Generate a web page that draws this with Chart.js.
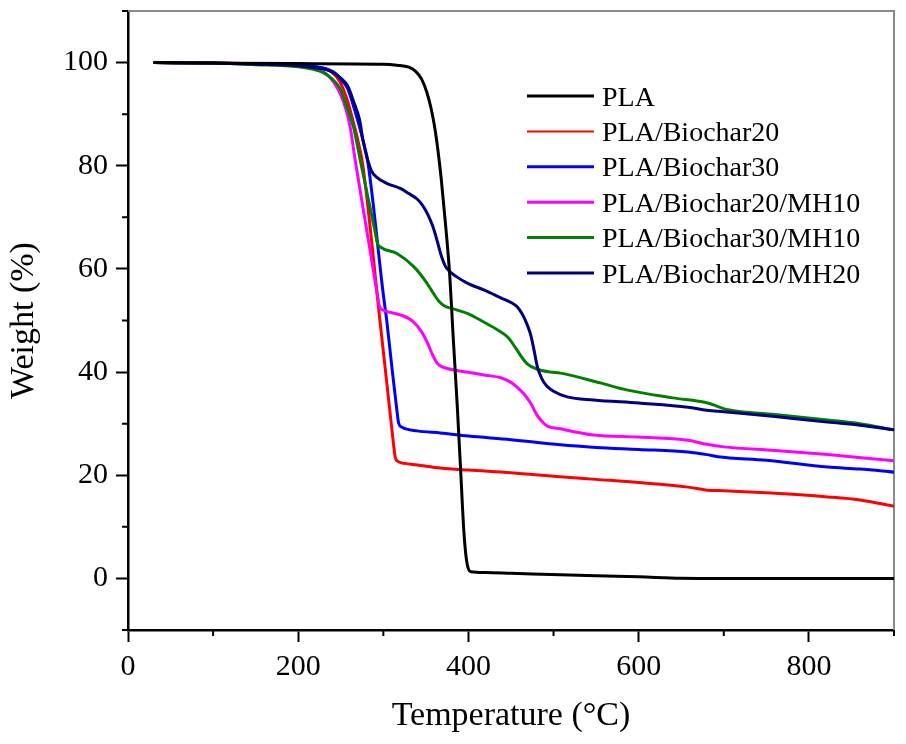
<!DOCTYPE html>
<html>
<head>
<meta charset="utf-8">
<title>TGA curves</title>
<script src="https://cdn.jsdelivr.net/npm/chart.js@4.4.1/dist/chart.umd.min.js"></script>
<style>
  html, body { margin: 0; padding: 0; background: #fff; }
  #wrap { width: 906px; height: 744px; position: relative; }
</style>
</head>
<body>
<div id="wrap"><canvas id="tgaChart"></canvas></div>
<script>
// tick labels
const xMajorTicks = [0, 200, 400, 600, 800];
const yMajorTicks = [0, 20, 40, 60, 80, 100];

const seriesNames = ["PLA", "PLA/Biochar20", "PLA/Biochar30", "PLA/Biochar20/MH10", "PLA/Biochar30/MH10", "PLA/Biochar20/MH20"];

// PLA
const plaTemp   = [30, 100, 200, 300, 316, 330, 338, 345, 351, 356, 360, 364, 368, 373, 378, 382, 387, 391, 394.5, 397, 400, 403, 420, 450, 508, 550, 600, 650, 700, 800, 900];
const plaWeight = [100, 99.9, 99.8, 99.7, 99.5, 99.1, 98.3, 96.8, 94.3, 91.2, 87.8, 83.2, 77.5, 68.8, 58.8, 47.0, 33.0, 20.4, 9.4, 4.5, 1.8, 1.3, 1.15, 1.0, 0.7, 0.5, 0.3, 0.05, 0, 0, 0];

// PLA/Biochar20
const bc20Temp   = [30, 100, 150, 200, 220, 238, 249, 258, 265, 270, 276, 296, 306, 312, 314, 316, 325, 340, 367, 400, 450, 508, 550, 600, 658, 681, 700, 750, 822, 860, 900];
const bc20Weight = [100, 99.9, 99.8, 99.5, 99.2, 98.3, 96.3, 92.5, 88.3, 85.0, 80.0, 50.0, 35.0, 26.0, 23.5, 22.8, 22.3, 22.0, 21.4, 21.0, 20.5, 19.7, 19.2, 18.6, 17.7, 17.1, 17.0, 16.6, 15.8, 15.2, 14.0];

// PLA/Biochar30
const bc30Temp   = [30, 100, 150, 200, 220, 240, 250, 258, 266, 276, 282, 300, 304, 310, 316, 318, 322, 340, 367, 400, 450, 508, 550, 600, 658, 680, 693, 750, 822, 860, 900];
const bc30Weight = [100, 99.9, 99.8, 99.5, 99.2, 98.3, 96.8, 95.0, 91.0, 85.0, 80.5, 55.0, 50.0, 41.0, 32.5, 30.1, 29.3, 28.6, 28.2, 27.6, 26.9, 25.9, 25.4, 25.0, 24.5, 24.0, 23.6, 22.9, 21.6, 21.2, 20.6];

// PLA/Biochar20/MH10
const bc20mh10Temp   = [30, 100, 150, 200, 220, 235, 249, 256, 261, 267, 281, 293, 295.5, 300, 320, 335, 345, 352, 358, 363, 368, 375, 398, 420, 438, 450, 457, 465, 473, 480, 485, 492, 508, 547, 600, 658, 680, 700, 760, 822, 900];
const bc20mh10Weight = [100, 99.9, 99.7, 99.3, 98.7, 97.5, 94.1, 91.0, 87.5, 81.0, 67.0, 55.0, 52.7, 52.0, 51.1, 49.8, 47.8, 45.6, 43.3, 41.8, 41.1, 40.7, 40.0, 39.4, 38.9, 38.0, 37.1, 35.8, 34.0, 31.8, 30.7, 29.6, 29.0, 27.8, 27.4, 26.8, 26.0, 25.5, 24.8, 24.0, 22.8];

// PLA/Biochar30/MH10
const bc30mh10Temp   = [30, 100, 150, 200, 215, 230, 240, 249, 257, 265, 273, 283, 290, 293, 297, 316, 336, 351, 359, 365, 372, 379, 400, 418, 433, 446, 457, 463, 469, 480, 496, 508, 555, 587, 640, 681, 705, 760, 822, 860, 900];
const bc30mh10Weight = [100, 99.9, 99.6, 99.2, 98.8, 98.0, 96.8, 95.0, 91.5, 87.5, 81.0, 73.0, 67.5, 65.0, 64.2, 63.0, 60.4, 57.3, 55.2, 53.8, 52.8, 52.4, 51.3, 49.7, 48.3, 46.8, 44.3, 42.8, 41.6, 40.6, 40.0, 39.8, 37.9, 36.5, 35.0, 34.0, 32.7, 31.8, 30.7, 30.0, 28.8];

// PLA/Biochar20/MH20
const bc20mh20Temp   = [30, 100, 150, 200, 220, 240, 250, 258, 266, 272, 276, 281, 286, 292, 304, 320, 330, 340, 347, 353, 358, 363, 368, 373, 378, 385, 398, 420, 438, 450, 457, 463, 468, 473, 477, 481, 486, 492, 500, 516, 547, 600, 658, 680, 700, 760, 822, 860, 900];
const bc20mh20Weight = [100, 99.9, 99.7, 99.4, 99.0, 98.2, 97.0, 95.5, 92.0, 89.0, 85.0, 81.5, 79.0, 77.8, 76.6, 75.6, 74.6, 73.5, 72.1, 70.3, 68.3, 65.6, 62.6, 60.5, 59.5, 58.6, 57.3, 55.8, 54.4, 53.5, 52.7, 51.3, 49.6, 47.3, 44.3, 41.0, 38.8, 37.3, 36.3, 35.2, 34.6, 34.0, 33.2, 32.6, 32.3, 31.4, 30.3, 29.7, 28.8];

function toPoints(xs, ys) {
  return xs.map((x, i) => ({ x: x, y: ys[i] }));
}

const FONT = "'Liberation Serif', 'Times New Roman', serif";

// short minor ticks (odd hundreds / odd tens)
const minorTicks = {
  id: "minorTicks",
  afterDraw(chart) {
    const ctx = chart.ctx;
    const xs = chart.scales.x, ys = chart.scales.y;
    ctx.save();
    ctx.strokeStyle = "#000";
    ctx.lineWidth = 2;
    ctx.beginPath();
    xs.ticks.forEach(t => {
      if (xMajorTicks.includes(t.value)) return;
      const px = xs.getPixelForValue(t.value);
      ctx.moveTo(px, xs.top);
      ctx.lineTo(px, xs.top + 6);
    });
    ys.ticks.forEach(t => {
      if (yMajorTicks.includes(t.value)) return;
      const py = ys.getPixelForValue(t.value);
      ctx.moveTo(ys.right, py);
      ctx.lineTo(ys.right - 6, py);
    });
    ctx.stroke();
    ctx.restore();
  }
};

// grey top/right frame
const frame = {
  id: "frame",
  beforeDatasetsDraw(chart) {
    const { ctx, chartArea: a } = chart;
    ctx.save();
    ctx.strokeStyle = "#8a8a8a";
    ctx.lineWidth = 2;
    ctx.beginPath();
    ctx.moveTo(a.left, a.top);
    ctx.lineTo(a.right, a.top);
    ctx.lineTo(a.right, a.bottom);
    ctx.stroke();
    ctx.restore();
  }
};

// legend inside the plot
const innerLegend = {
  id: "innerLegend",
  afterDraw(chart) {
    const ctx = chart.ctx;
    ctx.save();
    ctx.font = "28px " + FONT;
    ctx.textBaseline = "alphabetic";
    ctx.fillStyle = "#000";
    chart.data.datasets.forEach((ds, i) => {
      const y = 96 + i * 35.4;
      ctx.strokeStyle = ds.borderColor;
      ctx.lineWidth = i === 1 ? 2 : 3;
      ctx.beginPath();
      ctx.moveTo(527, y);
      ctx.lineTo(594, y);
      ctx.stroke();
      ctx.fillText(ds.label, 602, y + 9.5);
    });
    ctx.restore();
  }
};

const colors = ["#000000", "#ff0000", "#0000ff", "#ff00ff", "#008000", "#000080"];
const allTemps = [plaTemp, bc20Temp, bc30Temp, bc20mh10Temp, bc30mh10Temp, bc20mh20Temp];
const allWeights = [plaWeight, bc20Weight, bc30Weight, bc20mh10Weight, bc30mh10Weight, bc20mh20Weight];
const drawOrder = [0, 5, 4, 3, 2, 1];

const datasets = seriesNames.map((name, i) => ({
  label: name,
  data: toPoints(allTemps[i], allWeights[i]),
  borderColor: colors[i],
  backgroundColor: colors[i],
  borderWidth: 3,
  pointRadius: 0,
  cubicInterpolationMode: "monotone",
  order: drawOrder[i]
}));

const ctx = document.getElementById("tgaChart").getContext("2d");
new Chart(ctx, {
  type: "line",
  data: { datasets: datasets },
  options: {
    responsive: true,
    maintainAspectRatio: false,
    animation: false,
    layout: { padding: { top: 11, right: 12, left: 0, bottom: 0 } },
    plugins: {
      legend: { display: false },
      tooltip: { enabled: false }
    },
    scales: {
      x: {
        type: "linear",
        min: 0,
        max: 900,
        afterFit: s => { s.height = 114; s.paddingLeft = 0; s.paddingRight = 0; },
        border: { color: "#000", width: 2.5 },
        grid: {
          drawOnChartArea: false,
          tickLength: 12,
          tickWidth: 2,
          tickColor: c => xMajorTicks.includes(c.tick && c.tick.value) ? "#000" : "rgba(0,0,0,0)"
        },
        ticks: {
          stepSize: 100,
          autoSkip: false,
          maxRotation: 0,
          padding: 7,
          color: "#000",
          font: { family: FONT, size: 30 },
          callback: v => xMajorTicks.includes(v) ? String(v) : ""
        },
        title: {
          display: true,
          text: "Temperature (°C)",
          color: "#000",
          font: { family: FONT, size: 34 },
          padding: { top: 0, bottom: 8 }
        }
      },
      y: {
        type: "linear",
        min: -10,
        max: 110,
        afterFit: s => { s.width = 128; s.paddingTop = 0; s.paddingBottom = 0; },
        border: { color: "#000", width: 2.5 },
        grid: {
          drawOnChartArea: false,
          tickLength: 12,
          tickWidth: 2,
          tickColor: c => yMajorTicks.includes(c.tick && c.tick.value) ? "#000" : "rgba(0,0,0,0)"
        },
        ticks: {
          stepSize: 10,
          autoSkip: false,
          padding: 8,
          color: "#000",
          font: { family: FONT, size: 30 },
          callback: v => yMajorTicks.includes(v) ? String(v) : ""
        },
        title: {
          display: true,
          text: "Weight (%)",
          color: "#000",
          font: { family: FONT, size: 34 },
          padding: { top: 4, bottom: 0 }
        }
      }
    }
  },
  plugins: [frame, minorTicks, innerLegend]
});
</script>
</body>
</html>
